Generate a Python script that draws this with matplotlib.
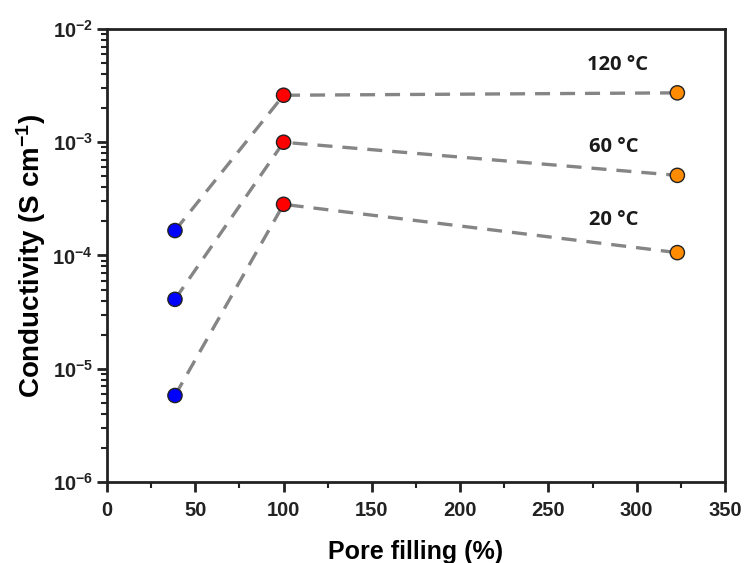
import matplotlib
matplotlib.use("Agg")
import matplotlib.pyplot as plt
from matplotlib.ticker import LogLocator, FuncFormatter, MultipleLocator
import numpy as np

plt.rcParams['font.family'] = ['Liberation Sans', 'DejaVu Sans']
plt.rcParams['mathtext.fontset'] = 'custom'
plt.rcParams['mathtext.rm'] = 'Liberation Sans:bold'
plt.rcParams['mathtext.bf'] = 'Liberation Sans:bold'
plt.rcParams['mathtext.default'] = 'bf'

pore_filling = [38.5, 100, 323]
point_colors = ['#0000ff', '#ff0000', '#ff8c00']
series_names = ['120 °C', '60 °C', '20 °C']
cond_120 = [1.66e-4, 2.6e-3, 2.73e-3]
cond_60 = [4.1e-5, 1.0e-3, 5.1e-4]
cond_20 = [5.8e-6, 2.83e-4, 1.06e-4]
label_pos = [(289, 4.8e-3), (287, 9.0e-4), (287, 2.04e-4)]

fig = plt.figure(figsize=(7.44, 5.63), dpi=100)
ax = fig.add_axes([0.1438, 0.1439, 0.8307, 0.8046])

for vals, name, (lx, ly) in zip([cond_120, cond_60, cond_20], series_names, label_pos):
    ax.plot(pore_filling, vals, linestyle=(0, (4.5, 3.0)), color='#858585', lw=2.4, zorder=2)
    ax.scatter(pore_filling, vals, c=point_colors, s=105, edgecolors='#222222', linewidths=1.0, zorder=3)
    ax.text(lx, ly, name, fontsize=14.5, fontweight='bold', family=['Open Sans', 'DejaVu Sans'],
            ha='center', va='center', color='#1a1a1a')

ax.set_yscale('log')
ax.set_ylim(1e-6, 1e-2)
ax.set_xlim(0, 350)
ax.xaxis.set_major_locator(MultipleLocator(50))
ax.xaxis.set_minor_locator(MultipleLocator(25))
ax.yaxis.set_major_locator(LogLocator(base=10, numticks=10))
ax.yaxis.set_minor_locator(LogLocator(base=10, subs=np.arange(2, 10), numticks=10))
ax.yaxis.set_major_formatter(FuncFormatter(lambda v, p: r'$10^{%d}$' % int(round(np.log10(v)))))

for s in ax.spines.values():
    s.set_linewidth(2.0)
    s.set_color('#222222')
ax.tick_params(axis='both', which='major', direction='out', length=7, width=2, labelsize=14.5, colors='#222222')
ax.tick_params(axis='y', which='major', pad=3)
ax.tick_params(axis='x', which='major', pad=7)
ax.tick_params(axis='both', which='minor', direction='out', length=4, width=1.5, colors='#222222')
for lab in ax.get_xticklabels():
    lab.set_fontweight('bold')

ax.set_xlabel('Pore filling (%)', fontsize=18, fontweight='bold', labelpad=14)
ax.set_ylabel(r'Conductivity (S cm$^{-1}$)', fontsize=20, fontweight='bold', labelpad=3)

fig.savefig('out.png', dpi=100)
